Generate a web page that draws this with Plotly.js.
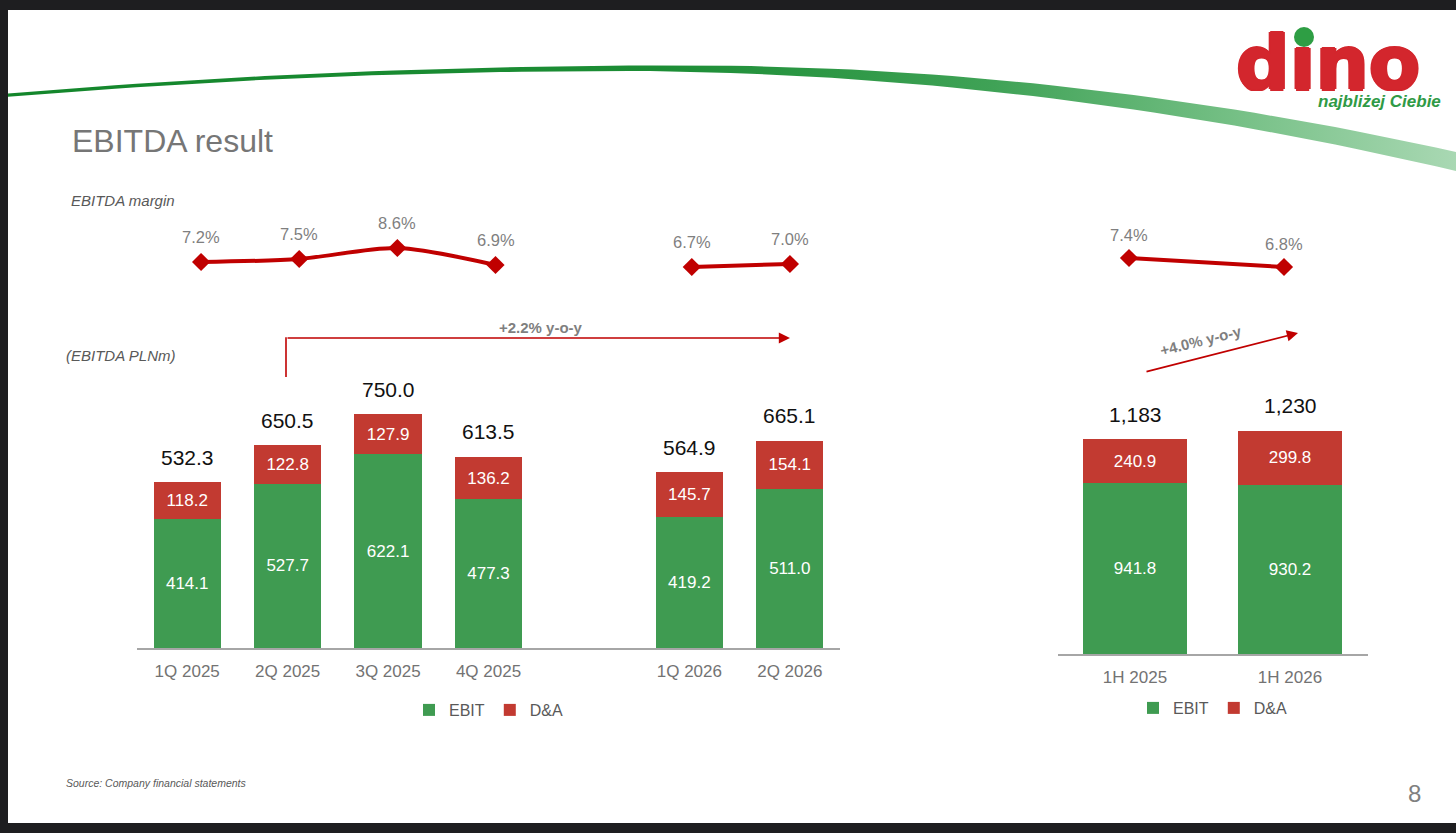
<!DOCTYPE html>
<html><head><meta charset="utf-8">
<script src="https://cdn.plot.ly/plotly-3.0.1.min.js"></script>
<style>html,body{margin:0;padding:0;background:#1e1e20;overflow:hidden}#chart{width:1456px;height:833px}</style>
</head><body><div id="chart"></div>
<script>
// ---- data ----
const quarterLabels = ['1Q 2025','2Q 2025','3Q 2025','4Q 2025','1Q 2026','2Q 2026'];
const quarterEbit   = [414.1, 527.7, 622.1, 477.3, 419.2, 511.0];
const quarterDA     = [118.2, 122.8, 127.9, 136.2, 145.7, 154.1];
const quarterTotal  = ['532.3','650.5','750.0','613.5','564.9','665.1'];
const quarterMargin = [7.2, 7.5, 8.6, 6.9, 6.7, 7.0];
const halfLabels = ['1H 2025','1H 2026'];
const halfEbit   = [941.8, 930.2];
const halfDA     = [240.9, 299.8];
const halfTotal  = ['1,183','1,230'];
const halfMargin = [7.4, 6.8];
const seriesNames = ['EBIT','D&A'];
const yoyQuarter = '+2.2% y-o-y';
const yoyHalf = '+4.0% y-o-y';

// ---- style ----
const W = 1456, H = 833;
const px = x => x / W, py = y => 1 - y / H;
const GREEN = '#3f9b51', RED = '#c23a31', LINE = '#c00000';
const FONT = 'Liberation Sans, Arial, sans-serif';
const catQ = [...quarterLabels.slice(0,4), ' ', ...quarterLabels.slice(4)];

const traces = [];
const inside = {textposition:'inside', insidetextanchor:'middle', textangle:0,
  textfont:{color:'#ffffff', size:17, family:FONT}, hoverinfo:'skip'};
// quarterly bars
traces.push(Object.assign({type:'bar', x:quarterLabels, y:quarterEbit, name:seriesNames[0], xaxis:'x', yaxis:'y', legend:'legend',
  marker:{color:GREEN}, text:quarterEbit.map(v=>v.toFixed(1))}, inside));
traces.push(Object.assign({type:'bar', x:quarterLabels, y:quarterDA, name:seriesNames[1], xaxis:'x', yaxis:'y', legend:'legend',
  marker:{color:RED}, text:quarterDA.map(v=>v.toFixed(1))}, inside));
// half-year bars
traces.push(Object.assign({type:'bar', x:halfLabels, y:halfEbit, name:seriesNames[0], xaxis:'x3', yaxis:'y3', legend:'legend2',
  marker:{color:GREEN}, text:halfEbit.map(v=>v.toFixed(1))}, inside));
traces.push(Object.assign({type:'bar', x:halfLabels, y:halfDA, name:seriesNames[1], xaxis:'x3', yaxis:'y3', legend:'legend2',
  marker:{color:RED}, text:halfDA.map(v=>v.toFixed(1))}, inside));
// margin lines
const lineStyle = {mode:'lines+markers', line:{color:LINE, width:4, shape:'spline', smoothing:0.8},
  marker:{symbol:'diamond', size:14, color:LINE}, showlegend:false, cliponaxis:false, hoverinfo:'skip'};
traces.push(Object.assign({type:'scatter', x:quarterLabels.slice(0,4), y:quarterMargin.slice(0,4), xaxis:'x2', yaxis:'y2'}, lineStyle));
traces.push(Object.assign({type:'scatter', x:quarterLabels.slice(4), y:quarterMargin.slice(4), xaxis:'x2', yaxis:'y2'}, lineStyle));
traces.push(Object.assign({type:'scatter', x:halfLabels, y:halfMargin, xaxis:'x4', yaxis:'y4'}, lineStyle));

// decorative swoosh (page header ornament)
function qb(p0,p1,p2,t){const u=1-t;return [u*u*p0[0]+2*u*t*p1[0]+t*t*p2[0], u*u*p0[1]+2*u*t*p1[1]+t*t*p2[1]];}
const topL=[[8,93.5],[329,66.5],[650,65.5]], topR=[[650,65.5],[1053,62],[1456,152]];
const botL=[[8,96.8],[329,70],[650,71]], botR=[[650,71],[1053,76],[1456,171]];
const sx=[], sy=[];
for(let i=0;i<=30;i++){const p=qb(...topL,i/30);sx.push(p[0]);sy.push(p[1]);}
for(let i=1;i<=40;i++){const p=qb(...topR,i/40);sx.push(p[0]);sy.push(p[1]);}
for(let i=40;i>=0;i--){const p=qb(...botR,i/40);sx.push(p[0]);sy.push(p[1]);}
for(let i=29;i>=0;i--){const p=qb(...botL,i/30);sx.push(p[0]);sy.push(p[1]);}
traces.push({type:'scatter', x:sx, y:sy, xaxis:'x5', yaxis:'y5', mode:'lines', fill:'toself', line:{width:0},
  fillcolor:'#2a9440', fillgradient:{type:'horizontal', colorscale:[[0,'#13862b'],[0.45,'#1c8d35'],[0.68,'#3fa256'],[0.85,'#76c086'],[1,'#a9d8b3']]},
  showlegend:false, hoverinfo:'skip'});

// ---- annotations ----
const ann = [];
const T = (x,y,text,font,extra) => Object.assign({xref:'x5', yref:'y5', x, y, text, showarrow:false,
  xanchor:'left', yanchor:'middle', font:Object.assign({family:FONT}, font)}, extra||{});

ann.push(T(70,141,'EBITDA result',{size:32,color:'#767676'}));
ann.push(T(69,200,'<i>EBITDA margin</i>',{size:15,color:'#595959'}));
ann.push(T(64,355,'<i>(EBITDA PLNm)</i>',{size:15,color:'#595959'}));
ann.push(T(64,783,'<i>Source: Company financial statements</i>',{size:10.5,color:'#595959'}));
ann.push(T(1414,793,'8',{size:24,color:'#808080'},{xanchor:'center'}));
// logo
const LOGO_RED = '#d3262d';
ann.push(T(1234,17,'dıno',{family:'DejaVu Sans, sans-serif', size:75, color:LOGO_RED, weight:'bold',
  shadow:'1.5px 0 0 '+LOGO_RED+', -1.5px 0 0 '+LOGO_RED+', 0 1.5px 0 '+LOGO_RED+', 0 -1px 0 '+LOGO_RED},
  {yanchor:'top', height:72, valign:'top'}));
ann.push(T(1443,101,'<b><i>najbliżej Ciebie</i></b>',{size:17,color:'#2f9a45'},{xanchor:'right'}));

// margin labels
quarterLabels.forEach((c,i)=>ann.push({xref:'x2', yref:'y2', x:c, y:quarterMargin[i], text:quarterMargin[i].toFixed(1)+'%',
  showarrow:false, yshift:25, font:{family:FONT, size:16.5, color:'#7f7f7f'}}));
halfLabels.forEach((c,i)=>ann.push({xref:'x4', yref:'y4', x:c, y:halfMargin[i], text:halfMargin[i].toFixed(1)+'%',
  showarrow:false, yshift:23, font:{family:FONT, size:16.5, color:'#7f7f7f'}}));
// totals
quarterLabels.forEach((c,i)=>ann.push({xref:'x', yref:'y', x:c, y:quarterEbit[i]+quarterDA[i], text:quarterTotal[i],
  showarrow:false, yshift:25, font:{family:FONT, size:21, color:'#111111'}}));
halfLabels.forEach((c,i)=>ann.push({xref:'x3', yref:'y3', x:c, y:halfEbit[i]+halfDA[i], text:halfTotal[i],
  showarrow:false, yshift:25, font:{family:FONT, size:21, color:'#111111'}}));
// y-o-y arrows
ann.push({xref:'x5', yref:'y5', x:790, y:338, axref:'x5', ayref:'y5', ax:286, ay:338, text:'', showarrow:true,
  arrowhead:2, arrowsize:1.4, arrowwidth:1.6, arrowcolor:LINE, standoff:0, startstandoff:0});
ann.push(T(541,327,'<b>'+yoyQuarter+'</b>',{size:15,color:'#7f7f7f'},{xanchor:'center'}));
ann.push({xref:'x5', yref:'y5', x:1298, y:333, axref:'x5', ayref:'y5', ax:1145, ay:372, text:'', showarrow:true,
  arrowhead:2, arrowsize:1.4, arrowwidth:1.6, arrowcolor:LINE, standoff:0, startstandoff:0});
ann.push(T(1201,340,'<b>'+yoyHalf+'</b>',{size:15,color:'#7f7f7f'},{xanchor:'center', textangle:-14}));

const shapes = [
  {type:'rect', xref:'paper', yref:'paper', x0:px(8), x1:1, y0:py(823), y1:py(10), fillcolor:'#ffffff', line:{width:0}, layer:'below'},
  {type:'line', xref:'x5', yref:'y5', x0:286, y0:377, x1:286, y1:337.2, line:{color:LINE, width:1.6}},
  {type:'circle', xref:'x5', yref:'y5', x0:1294, x1:1314, y0:27, y1:47, fillcolor:'#2e9e44', line:{width:0}}
];

const hidden = {visible:false, fixedrange:true, showgrid:false, zeroline:false};
const tickAxis = {showline:true, linecolor:'#a6a6a6', linewidth:1.5, ticks:'', showgrid:false, zeroline:false, fixedrange:true,
  ticklabelstandoff:7, tickfont:{size:17, color:'#737373', family:FONT}};
const layout = {
  width:W, height:H, margin:{l:0,r:0,t:0,b:0, pad:0}, paper_bgcolor:'#1e1e20', plot_bgcolor:'rgba(0,0,0,0)',
  barmode:'stack', bargap:0.33, hovermode:false, font:{family:FONT},
  xaxis:Object.assign({domain:[px(137),px(840)], anchor:'y', type:'category', categoryorder:'array', categoryarray:catQ, range:[-0.5,6.5]}, tickAxis),
  yaxis:Object.assign({domain:[py(648), py(367.6)], anchor:'x', range:[0,900]}, hidden),
  xaxis2:Object.assign({domain:[px(152),px(839)], anchor:'y2', type:'category', categoryorder:'array', categoryarray:catQ, range:[-0.5,6.5]}, hidden),
  yaxis2:Object.assign({domain:[py(274), py(244)], anchor:'x2', range:[6,9]}, hidden),
  xaxis3:Object.assign({domain:[px(1057.5),px(1367.5)], anchor:'y3', type:'category', categoryorder:'array', categoryarray:halfLabels, range:[-0.5,1.5]}, tickAxis),
  yaxis3:Object.assign({domain:[py(654), py(381.6)], anchor:'x3', range:[0,1500]}, hidden),
  xaxis4:Object.assign({domain:[px(1051.5),px(1361.5)], anchor:'y4', type:'category', categoryorder:'array', categoryarray:halfLabels, range:[-0.5,1.5]}, hidden),
  yaxis4:Object.assign({domain:[py(279), py(234)], anchor:'x4', range:[6,9]}, hidden),
  xaxis5:Object.assign({domain:[0,1], anchor:'y5', range:[0,W]}, hidden),
  yaxis5:Object.assign({domain:[0,1], anchor:'x5', range:[H,0]}, hidden),
  legend:{orientation:'h', x:px(489), xanchor:'center', y:py(710), yanchor:'middle', traceorder:'normal',
    font:{size:16, color:'#595959', family:FONT}, bgcolor:'rgba(0,0,0,0)'},
  legend2:{orientation:'h', x:px(1213), xanchor:'center', y:py(708), yanchor:'middle', traceorder:'normal',
    font:{size:16, color:'#595959', family:FONT}, bgcolor:'rgba(0,0,0,0)'},
  annotations:ann, shapes:shapes
};
Plotly.newPlot('chart', traces, layout, {displayModeBar:false, staticPlot:true});
</script></body></html>
